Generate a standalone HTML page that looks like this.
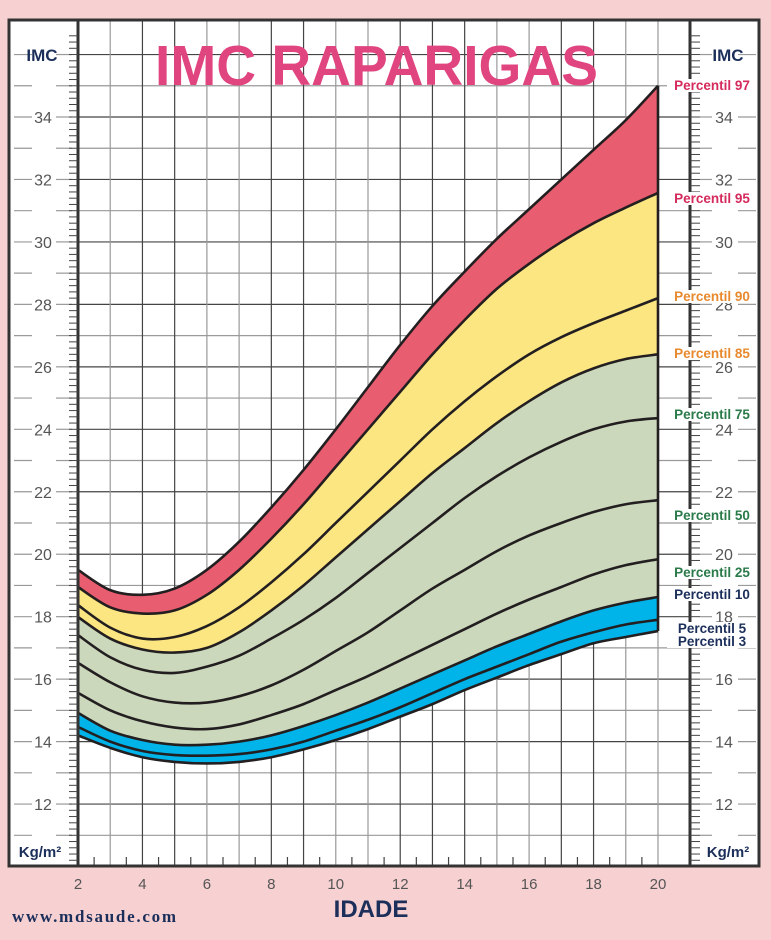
<!DOCTYPE html>
<html><head><meta charset="utf-8"><style>
html,body{margin:0;padding:0;background:#f7d0d2;}
svg{display:block;font-family:"Liberation Sans",sans-serif;}
</style></head><body>
<svg id="s" width="771" height="940" viewBox="0 0 771 940" xmlns="http://www.w3.org/2000/svg">
<rect x="0" y="0" width="771" height="940" fill="#f7d0d2"/>
<rect x="9" y="20" width="750" height="846" fill="#fff"/>
<g id="grid"></g>
<g id="fills"></g>
<g id="lines"></g>
<g id="axes"></g>
<text x="155" y="85" font-size="57" font-weight="bold" fill="#e04580" textLength="443" lengthAdjust="spacingAndGlyphs">IMC RAPARIGAS</text>
<g id="labels" font-weight="bold" font-size="13.5"></g>
<rect x="9" y="20" width="750" height="846" fill="none" stroke="#333" stroke-width="3"/>
<text x="42" y="61" font-size="17" font-weight="bold" fill="#1b2f5a" text-anchor="middle">IMC</text>
<text x="728" y="61" font-size="17" font-weight="bold" fill="#1b2f5a" text-anchor="middle">IMC</text>
<text x="40" y="857" font-size="15" font-weight="bold" fill="#1b2f5a" text-anchor="middle">Kg/m²</text>
<text x="728" y="857" font-size="15" font-weight="bold" fill="#1b2f5a" text-anchor="middle">Kg/m²</text>
<text x="371" y="917" font-size="24" font-weight="bold" fill="#1b2f5a" text-anchor="middle">IDADE</text>
<text x="12" y="922" font-size="17" font-weight="bold" fill="#1b2f5a" font-family="Liberation Serif,serif" textLength="164">www.mdsaude.com</text>
</svg>
<script>
var NS="http://www.w3.org/2000/svg";
function X(a){return 78+(a-2)*32.222;}
function Y(v){return 117+(34-v)*31.23;}
function el(p,t,at,txt){var e=document.createElementNS(NS,t);for(var k in at)e.setAttribute(k,at[k]);if(txt!==undefined)e.textContent=txt;document.getElementById(p).appendChild(e);return e;}
for(var v=11;v<=36;v++){var y=Y(v);var dk=(v%2==0);
 el("grid","line",{x1:78,x2:690,y1:y,y2:y,stroke:dk?"#444":"#999","stroke-width":1.2});
 el("grid","line",{x1:14,x2:32,y1:y,y2:y,stroke:"#999","stroke-width":1.2});
 el("grid","line",{x1:56,x2:72,y1:y,y2:y,stroke:"#999","stroke-width":1.2});
 el("grid","line",{x1:700,x2:712,y1:y,y2:y,stroke:"#999","stroke-width":1.2});
 el("grid","line",{x1:738,x2:756,y1:y,y2:y,stroke:"#999","stroke-width":1.2});
}
var darkA={4:1,5:1,8:1,9:1,12:1,13:1,14:1,17:1,18:1};
for(var a=3;a<=20;a++){var x=X(a);el("grid","line",{x1:x,x2:x,y1:20,y2:866,stroke:darkA[a]?"#444":"#999","stroke-width":1.2});}
el("axes","line",{x1:78,x2:78,y1:20,y2:866,stroke:"#333","stroke-width":3});
el("axes","line",{x1:690,x2:690,y1:20,y2:866,stroke:"#333","stroke-width":3});
for(var t=10.2;t<36.6;t+=0.2){var y=Y(t);
 el("axes","line",{x1:69,x2:78,y1:y,y2:y,stroke:"#444","stroke-width":1});
 el("axes","line",{x1:690,x2:700,y1:y,y2:y,stroke:"#444","stroke-width":1});}
for(var a=2.5;a<20;a+=1){var x=X(a);el("axes","line",{x1:x,x2:x,y1:857,y2:866,stroke:"#444","stroke-width":1.2});}
for(var v=12;v<=34;v+=2){
 el("axes","text",{x:43,y:Y(v)+6,"font-size":16,fill:"#555","text-anchor":"middle"},""+v);
 el("axes","text",{x:724,y:Y(v)+6,"font-size":16,fill:"#555","text-anchor":"middle"},""+v);}
for(var a=2;a<=20;a+=2)el("axes","text",{x:X(a),y:889,"font-size":15,fill:"#555","text-anchor":"middle"},""+a);
var P={
p97:[19.5,18.85,18.7,18.9,19.5,20.4,21.5,22.7,24.0,25.35,26.7,27.95,29.05,30.1,31.05,32.0,32.95,33.9,35.0],
p95:[18.95,18.3,18.1,18.2,18.7,19.5,20.5,21.6,22.8,24.0,25.2,26.4,27.5,28.5,29.3,30.0,30.6,31.1,31.57],
p90:[18.37,17.65,17.3,17.35,17.7,18.3,19.1,20.0,21.0,22.0,23.0,24.0,24.9,25.7,26.4,26.95,27.4,27.8,28.2],
p85:[17.99,17.3,16.95,16.85,17.0,17.5,18.2,19.0,19.9,20.8,21.7,22.6,23.4,24.2,24.9,25.5,25.95,26.25,26.4],
p75:[17.41,16.7,16.3,16.2,16.4,16.75,17.3,17.9,18.6,19.4,20.2,21.0,21.8,22.5,23.1,23.6,24.0,24.25,24.36],
p50:[16.52,15.9,15.45,15.25,15.25,15.45,15.8,16.3,16.9,17.5,18.2,18.9,19.5,20.1,20.6,21.0,21.35,21.6,21.73],
p25:[15.56,15.0,14.65,14.45,14.4,14.55,14.85,15.2,15.65,16.1,16.6,17.1,17.6,18.1,18.55,18.95,19.35,19.65,19.84],
p10:[14.92,14.35,14.05,13.9,13.9,14.0,14.2,14.5,14.85,15.25,15.7,16.15,16.6,17.05,17.45,17.85,18.2,18.45,18.63],
p5:[14.47,14.0,13.7,13.57,13.55,13.6,13.75,14.0,14.35,14.7,15.1,15.55,16.0,16.4,16.8,17.2,17.5,17.75,17.9],
p3:[14.2,13.8,13.5,13.35,13.3,13.35,13.5,13.75,14.05,14.4,14.8,15.2,15.65,16.05,16.45,16.8,17.15,17.35,17.54]};
function pts(k){return P[k].map(function(v,i){return [X(2+i),Y(v)];});}
function cr(p,start){var d=start?("M"+p[0][0]+","+p[0][1]):("L"+p[0][0]+","+p[0][1]);
 for(var i=0;i<p.length-1;i++){var p0=p[i-1]||p[i],p1=p[i],p2=p[i+1],p3=p[i+2]||p[i+1];
  d+=" C"+(p1[0]+(p2[0]-p0[0])/6)+","+(p1[1]+(p2[1]-p0[1])/6)+" "+(p2[0]-(p3[0]-p1[0])/6)+","+(p2[1]-(p3[1]-p1[1])/6)+" "+p2[0]+","+p2[1];}
 return d;}
function band(a,b,c){var pa=pts(a),pb=pts(b).reverse();el("fills","path",{d:cr(pa,true)+" "+cr(pb,false)+"Z",fill:c});}
band("p97","p95","#e85d6f");band("p95","p85","#fbe682");band("p85","p10","#ccd8bc");band("p10","p3","#00b3e9");
for(var k in P)el("lines","path",{d:cr(pts(k),true),fill:"none",stroke:"#231f20","stroke-width":2.6});
el("lines","line",{x1:X(20),x2:X(20),y1:Y(35),y2:Y(17.54),stroke:"#231f20","stroke-width":2.6});
var L=[["Percentil 97",90,"#d42a5c"],["Percentil 95",203,"#d42a5c"],["Percentil 90",301,"#e8892e"],["Percentil 85",358,"#e8892e"],["Percentil 75",419,"#2a7a4a"],["Percentil 50",520,"#2a7a4a"],["Percentil 25",577,"#2a7a4a"],["Percentil 10",599,"#1b2f5a"],["Percentil 5",633,"#1b2f5a"],["Percentil 3",646,"#1b2f5a"]];
L.forEach(function(l){el("labels","rect",{x:667,y:l[1]-11,width:90,height:13,fill:"#fff"});});
L.forEach(function(l){el("labels","text",{x:712,y:l[1],"text-anchor":"middle",fill:l[2]},l[0]);});
</script>
</body></html>
